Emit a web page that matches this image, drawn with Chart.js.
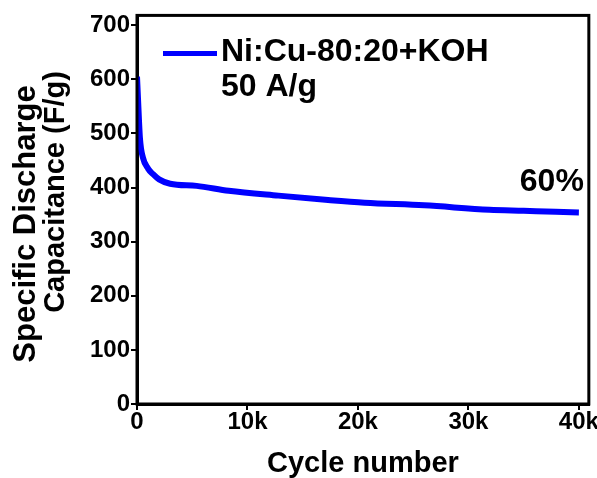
<!DOCTYPE html>
<html>
<head>
<meta charset="utf-8">
<script src="https://cdn.jsdelivr.net/npm/chart.js@4"></script>
<style>
  html, body { margin: 0; padding: 0; background: #fff; }
  #wrap { width: 597px; height: 478px; }
</style>
</head>
<body>
<div id="wrap"><canvas id="myChart"></canvas></div>
<script>
const cycles = [0, 100, 270, 540, 1000, 1430, 2000, 3000, 5400, 8300, 12800, 17300, 20600, 26000, 31900, 35000, 37900, 40000];
const capacitance = [605, 560, 490, 455, 435, 425, 415, 407, 403, 394, 385, 377, 372, 367, 359, 357, 355, 354];
const seriesName = 'Ni:Cu-80:20+KOH';
const rateLabel = '50 A/g';
const retention = '60%';
const yTitle = ['Specific Discharge', 'Capacitance (F/g)'];

const FONT = '"Liberation Sans", Arial, sans-serif';

const annotations = {
  id: 'annotations',
  afterDraw(chart) {
    const { ctx, chartArea: a } = chart;
    ctx.save();
    // frame
    ctx.strokeStyle = '#000';
    ctx.lineWidth = 3;
    ctx.strokeRect(a.left, a.top, a.right - a.left, a.bottom - a.top);
    // legend line + text
    ctx.strokeStyle = '#0000ff';
    ctx.lineWidth = 5;
    ctx.beginPath();
    ctx.moveTo(a.left + 26, a.top + 38);
    ctx.lineTo(a.left + 80, a.top + 38);
    ctx.stroke();
    ctx.fillStyle = '#000';
    ctx.font = 'bold 32px ' + FONT;
    ctx.textBaseline = 'middle';
    ctx.textAlign = 'left';
    ctx.fillText(seriesName, a.left + 84, a.top + 37);
    ctx.fillText(rateLabel, a.left + 84, a.top + 72);
    ctx.textAlign = 'right';
    ctx.fillText(retention, a.right - 5, a.top + 167);
    // y axis title, two lines, each centred on its own spot
    ctx.textAlign = 'center';
    ctx.font = 'bold 31px ' + FONT;
    ctx.save();
    ctx.translate(26, 224);
    ctx.rotate(-Math.PI / 2);
    ctx.fillText(yTitle[0], 0, 0);
    ctx.restore();
    ctx.font = 'bold 29px ' + FONT;
    ctx.save();
    ctx.translate(56, 192);
    ctx.rotate(-Math.PI / 2);
    ctx.fillText(yTitle[1], 0, 0);
    ctx.restore();
    ctx.restore();
  }
};

new Chart(document.getElementById('myChart'), {
  type: 'line',
  data: {
    datasets: [{
      label: seriesName,
      data: cycles.map((c, i) => ({ x: c, y: capacitance[i] })),
      borderColor: '#0000ff',
      borderWidth: 6,
      pointRadius: 0,
      cubicInterpolationMode: 'monotone',
      fill: false
    }]
  },
  plugins: [annotations],
  options: {
    responsive: true,
    maintainAspectRatio: false,
    animation: false,
    layout: { padding: { top: 14, right: 4, left: 0, bottom: 0 } },
    plugins: { legend: { display: false }, tooltip: { enabled: false } },
    scales: {
      x: {
        type: 'linear',
        min: 0,
        max: 40900,
        afterFit(s) { s.height = 74; },
        afterBuildTicks(s) { s.ticks = [0, 10000, 20000, 30000, 40000].map(v => ({ value: v })); },
        ticks: {
          color: '#000',
          font: { family: FONT, size: 24, weight: 'bold' },
          padding: -2,
          maxRotation: 0,
          callback: v => v === 0 ? '0' : (v / 1000) + 'k'
        },
        grid: { display: true, drawOnChartArea: false, drawTicks: true, tickLength: 6, color: '#000', lineWidth: 2 },
        border: { display: true, color: '#000', width: 3 },
        title: {
          display: true,
          text: 'Cycle number',
          color: '#000',
          font: { family: FONT, size: 29, weight: 'bold', lineHeight: 1 },
          padding: { top: 0, bottom: 0 }
        }
      },
      y: {
        min: 0,
        max: 718,
        afterFit(s) { s.width = 137; },
        afterBuildTicks(s) { s.ticks = [0, 100, 200, 300, 400, 500, 600, 700].map(v => ({ value: v })); },
        ticks: {
          color: '#000',
          font: { family: FONT, size: 24, weight: 'bold' },
          padding: 1
        },
        grid: { display: true, drawOnChartArea: false, drawTicks: true, tickLength: 6, color: '#000', lineWidth: 2 },
        border: { display: true, color: '#000', width: 3 },
        title: { display: false }
      }
    }
  }
});
</script>
</body>
</html>
